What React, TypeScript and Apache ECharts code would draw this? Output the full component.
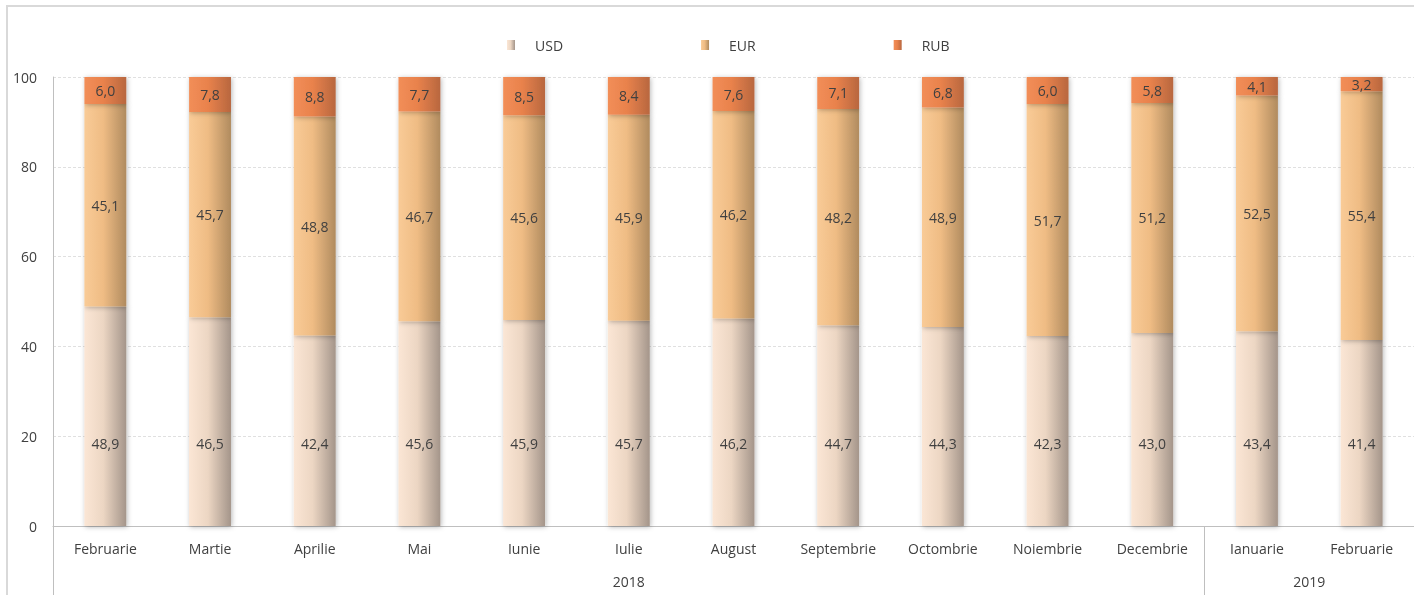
import React, { useEffect, useRef } from "react";
import * as echarts from "echarts";

const months = ["Februarie", "Martie", "Aprilie", "Mai", "Iunie", "Iulie", "August", "Septembrie", "Octombrie", "Noiembrie", "Decembrie", "Ianuarie", "Februarie"];
const years = [
  { label: "2018", from: 0, to: 10 },
  { label: "2019", from: 11, to: 12 },
];
const usd = [48.9, 46.5, 42.4, 45.6, 45.9, 45.7, 46.2, 44.7, 44.3, 42.3, 43.0, 43.4, 41.4];
const eur = [45.1, 45.7, 48.8, 46.7, 45.6, 45.9, 46.2, 48.2, 48.9, 51.7, 51.2, 52.5, 55.4];
const rub = [6.0, 7.8, 8.8, 7.7, 8.5, 8.4, 7.6, 7.1, 6.8, 6.0, 5.8, 4.1, 3.2];

const FONT = "Open Sans";
const TXT = "#404040";
const FS = 14;

const grad = (a: string, b: string, c: string) => ({
  type: "linear",
  x: 0, y: 0, x2: 1, y2: 0,
  colorStops: [
    { offset: 0, color: a },
    { offset: 0.45, color: b },
    { offset: 1, color: c },
  ],
});

const fmt = (p: any) => Number(p.value).toFixed(1).replace(".", ",");

export default function App() {
  const ref = useRef<HTMLDivElement>(null);
  useEffect(() => {
    const chart = echarts.init(ref.current!, null, { renderer: "svg" });
    const barStyle = (color: any) => ({
      color,
      shadowBlur: 5,
      shadowColor: "rgba(0,0,0,0.28)",
      shadowOffsetX: 1,
      shadowOffsetY: 1,
    });
    const label = {
      show: true,
      color: TXT,
      fontFamily: FONT,
      fontSize: FS,
      formatter: fmt,
    };
    chart.setOption({
      animation: false,
      textStyle: { fontFamily: FONT },
      legend: {
        top: 38,
        left: 507,
        padding: 0,
        icon: "rect",
        itemWidth: 8,
        itemHeight: 10,
        itemGap: 138,
        textStyle: { color: TXT, fontSize: FS, fontFamily: FONT, width: 30, padding: [0, 0, 0, 15] },
        data: ["USD", "EUR", "RUB"],
      },
      grid: { left: 53, right: 0, top: 77, bottom: 69, containLabel: false },
      xAxis: {
        type: "category",
        data: months,
        axisLine: { lineStyle: { color: "#bfbfbf" } },
        axisTick: {
          show: true,
          length: 70,
          interval: (i: number) => i === 0 || i === 11,
          lineStyle: { color: "#bfbfbf" },
        },
        axisLabel: { color: TXT, fontSize: FS, fontFamily: FONT, margin: 15, interval: 0 },
      },
      yAxis: {
        type: "value",
        min: 0,
        max: 100,
        interval: 20,
        axisLine: { show: true, lineStyle: { color: "#bfbfbf" } },
        axisTick: { show: false },
        splitLine: { lineStyle: { color: "#e0e0e0", type: [3, 2] } },
        axisLabel: { color: TXT, fontSize: FS, fontFamily: FONT, margin: 16 },
      },
      series: [
        {
          name: "USD", type: "bar", stack: "s", barWidth: "40%", data: usd,
          itemStyle: barStyle(grad("#fbe6d5", "#ecd6c3", "#a4958a")),
          label: { ...label, position: "insideBottom", distance: 76 },
        },
        {
          name: "EUR", type: "bar", stack: "s", barWidth: "40%", data: eur,
          itemStyle: barStyle(grad("#f9cb97", "#efbc84", "#b08b5f")),
          label: { ...label, position: "inside" },
        },
        {
          name: "RUB", type: "bar", stack: "s", barWidth: "40%", data: rub,
          itemStyle: barStyle(grad("#f28e58", "#e9824c", "#b8673f")),
          label: { ...label, position: "inside" },
        },
      ],
    });
    const yearTexts = years.map((y) => {
      const a = chart.convertToPixel({ xAxisIndex: 0 }, y.from) as number;
      const b = chart.convertToPixel({ xAxisIndex: 0 }, y.to) as number;
      return {
        type: "text",
        x: (a + b) / 2,
        y: 581,
        style: { text: y.label, fill: TXT, font: `${FS}px "${FONT}"`, align: "center", verticalAlign: "middle" },
      };
    });
    chart.setOption({
      graphic: [
        {
          type: "rect",
          shape: { x: 7, y: 6, width: 1500, height: 700 },
          style: { fill: "none", stroke: "#d9d9d9", lineWidth: 2 },
          silent: true,
        },
        ...yearTexts,
      ],
    });
    return () => chart.dispose();
  }, []);
  return <div ref={ref} style={{ position: "fixed", left: 0, top: 0, width: 1414, height: 595 }} />;
}
